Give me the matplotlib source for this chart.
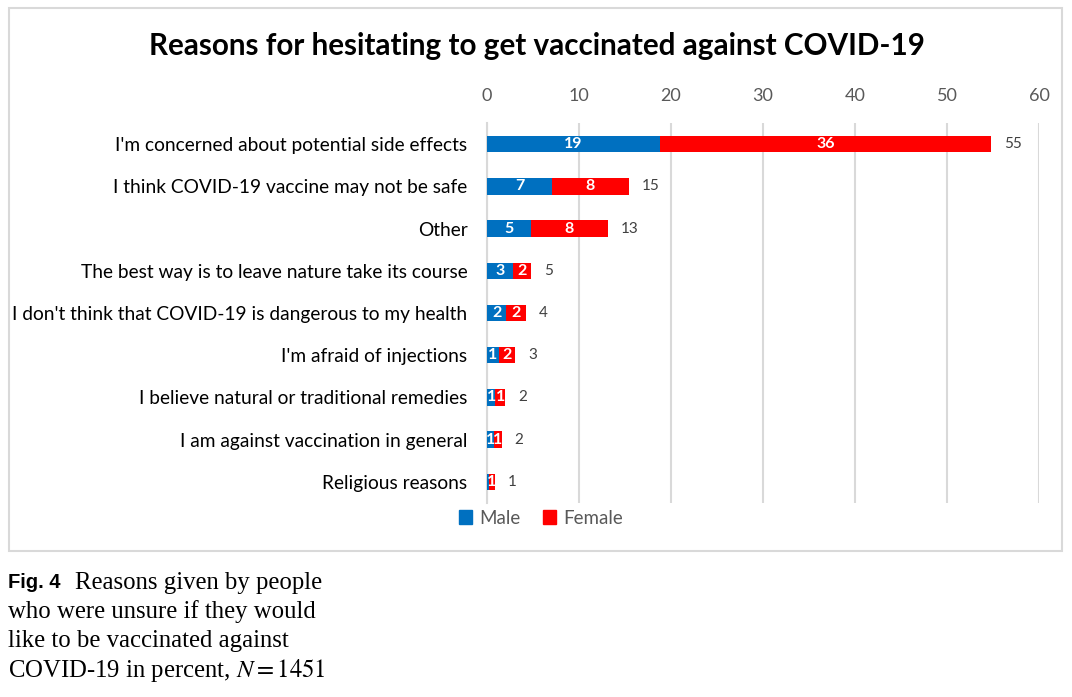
import numpy as np
import matplotlib.pyplot as plt
from matplotlib.patches import Rectangle

plt.rcParams['mathtext.fontset'] = 'stix'

# Reasons (top to bottom) and shares in percent
reasons = [
    "I'm concerned about potential side effects",
    "I think COVID-19 vaccine may not be safe",
    "Other",
    "The best way is to leave nature take its course",
    "I don't think that COVID-19 is dangerous to my health",
    "I'm afraid of injections",
    "I believe natural or traditional remedies",
    "I am against vaccination in general",
    "Religious reasons",
]
male = [18.8, 7.1, 4.8, 2.8, 2.1, 1.27, 0.91, 0.76, 0.22]
female = [36.0, 8.3, 8.3, 2.0, 2.18, 1.78, 1.05, 0.84, 0.62]
xticks = [0, 10, 20, 30, 40, 50, 60]

blue = '#0070C0'
red = '#FF0000'
grey_text = '#595959'
sans = ['Lato', 'DejaVu Sans']

fig = plt.figure(figsize=(10.72, 6.97), dpi=100)

# chart frame
fig.patches.append(Rectangle((9 / 1072, 1 - 551 / 697), 1053 / 1072, 543 / 697,
                             transform=fig.transFigure, fill=False,
                             edgecolor='#D9D9D9', linewidth=1.5))

ax = fig.add_axes([487 / 1072, 1 - 503 / 697, 552 / 1072, 380 / 697])
y = np.arange(len(reasons))
male = np.array(male)
female = np.array(female)
total = male + female

ax.barh(y, male, height=0.39, color=blue, zorder=3)
ax.barh(y, female, left=male, height=0.39, color=red, zorder=3)

for i in range(len(reasons)):
    if round(male[i]) > 0:
        ax.text(male[i] / 2, y[i], str(round(male[i])), ha='center', va='center',
                color='white', fontsize=11.5, fontweight='bold', family=sans, zorder=4)
    if round(female[i]) > 0:
        ax.text(male[i] + female[i] / 2, y[i], str(round(female[i])), ha='center',
                va='center', color='white', fontsize=11.5, fontweight='bold',
                family=sans, zorder=4)
    ax.text(total[i] + 1.4, y[i], str(round(total[i])), ha='left', va='center',
            color='#404040', fontsize=11, family=sans)

ax.set_ylim(len(reasons) - 0.5, -0.5)
ax.set_xlim(0, 60)
ax.set_xticks(xticks)
ax.xaxis.tick_top()
ax.set_yticks(y)
ax.set_yticklabels(reasons, family=sans, fontsize=13.8, color='black')
ax.tick_params(axis='x', length=0, pad=14, labelsize=13, labelcolor=grey_text)
ax.tick_params(axis='y', length=0, pad=14)
for lab in ax.get_xticklabels():
    lab.set_family(sans)
ax.grid(axis='x', color='#D9D9D9', linewidth=1.5, zorder=0)
for s in ['top', 'right', 'bottom']:
    ax.spines[s].set_visible(False)
ax.spines['left'].set_color('#D9D9D9')
ax.spines['left'].set_linewidth(1.5)

fig.text(537 / 1072, 1 - 46 / 697, 'Reasons for hesitating to get vaccinated against COVID-19',
         ha='center', va='center', fontsize=21.3, fontweight='bold', family=sans)

# legend
handles = [Rectangle((0, 0), 1, 1, color=blue), Rectangle((0, 0), 1, 1, color=red)]
fig.legend(handles, ['Male', 'Female'], loc='center', bbox_to_anchor=(541 / 1072, 1 - 518 / 697),
           ncol=2, frameon=False, handlelength=0.7, handleheight=0.7, handletextpad=0.4,
           columnspacing=1.2, prop={'family': sans, 'size': 13.5}, labelcolor=grey_text)

# caption
fig.text(8 / 1072, 1 - 583 / 697, 'Fig. 4', ha='left', va='center', fontsize=14.5,
         fontweight='bold', family=['Liberation Sans'])
cap = ['Reasons given by people', 'who were unsure if they would',
       'like to be vaccinated against', r'COVID-19 in percent, $N{=}1451$']
fig.text(75 / 1072, 1 - 583 / 697, cap[0], ha='left', va='center', fontsize=17.8,
         family=['Liberation Serif'])
for k, line in enumerate(cap[1:]):
    fig.text(8 / 1072, 1 - (612 + 29 * k) / 697, line, ha='left', va='center',
             fontsize=17.8, family=['Liberation Serif'])

fig.savefig('out.png', dpi=100)
